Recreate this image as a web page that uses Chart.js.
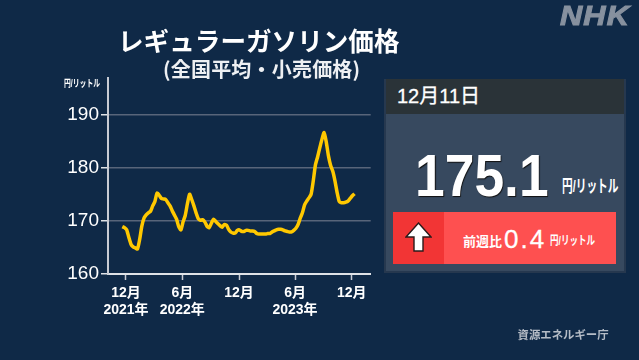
<!DOCTYPE html>
<html lang="ja">
<head>
<meta charset="utf-8">
<script src="https://cdn.jsdelivr.net/npm/chart.js@4"></script>
<style>
  html, body { margin: 0; padding: 0; background: #0f2947; }
  body { width: 639px; height: 360px; overflow: hidden; position: relative; color: #fff;
    font-family: "Liberation Sans", "Noto Sans CJK JP", sans-serif; }
  canvas { position: absolute; left: 0; top: 0; }
  .txt { position: absolute; white-space: nowrap; line-height: 1; }
  .unit { transform-origin: left center; font-weight: 700; }
  #title { left: 118px; top: 27px; font: 700 25.6px "Noto Sans CJK JP"; line-height: 1; }
  #subtitle { left: 163px; top: 59px; font: 700 20px "Noto Sans CJK JP"; line-height: 1; color: #eef0f3; letter-spacing: .2px; }
  #nhk { left: 560px; top: 1px; font: italic 900 27px "Liberation Sans"; color: #87919f; letter-spacing: 1px; transform: scaleX(1.14); transform-origin: left top; -webkit-text-stroke: 1px #87919f; }
  #axisUnit { left: 64px; top: 79px; font-size: 10px; transform: scaleX(.685); }
  #panel { position: absolute; left: 384px; top: 79px; width: 242px; height: 194px; background: #26384f; }
  #panelHead { position: absolute; left: 2px; top: 0; width: 238px; height: 35px; background: #2a3338; }
  #panelBody { position: absolute; left: 2px; top: 35px; width: 238px; height: 157px; background: #37495f; }
  #date { left: 397px; top: 86px; font-size: 20px; -webkit-text-stroke: .3px #fff; }
  #price { left: 415px; top: 141px; font: 700 60px "Liberation Sans"; transform: scaleX(.89); transform-origin: left top; text-shadow: 1px 1px 1px #111; }
  #priceUnit { left: 562px; top: 178px; font-size: 17px; transform: scaleX(.63); }
  #barDark { position: absolute; left: 393px; top: 212px; width: 51px; height: 52px; background: #f23535; }
  #barLight { position: absolute; left: 444px; top: 212px; width: 172px; height: 52px; background: #fe5050; }
  #arrow { position: absolute; left: 405px; top: 222px; }
  #weekLabel { left: 463px; top: 234px; font: 700 13px "Noto Sans CJK JP"; line-height: 1; }
  #weekValue { left: 504px; top: 224px; font: 400 26px "Liberation Sans"; letter-spacing: 2px; -webkit-text-stroke: .3px #fff; }
  #weekUnit { left: 550px; top: 235px; font-size: 12px; transform: scaleX(.71); }
  #source { left: 517.5px; top: 329px; font: 700 11.4px "Noto Sans CJK JP"; line-height: 1; color: #b5bcc6; }
</style>
</head>
<body>
<canvas id="chart" width="639" height="360"></canvas>
<div class="txt" id="title">レギュラーガソリン価格</div>
<div class="txt" id="subtitle">(全国平均・小売価格)</div>
<div class="txt" id="nhk">NHK</div>
<div class="txt unit" id="axisUnit">円/リットル</div>
<div id="panel"><div id="panelHead"></div><div id="panelBody"></div></div>
<div class="txt" id="date">12月11日</div>
<div class="txt" id="price">175.1</div>
<div class="txt unit" id="priceUnit">円/リットル</div>
<div id="barDark"></div>
<div id="barLight"></div>
<svg id="arrow" width="27" height="31" viewBox="0 0 27 31">
  <path d="M13.5 1 L26 15 L18 15 L18 29 L9 29 L9 15 L1 15 Z" fill="#fff" stroke="#2a1a1a" stroke-width="1.4"/>
</svg>
<div class="txt" id="weekLabel">前週比</div>
<div class="txt" id="weekValue">0.4</div>
<div class="txt unit" id="weekUnit">円/リットル</div>
<div class="txt" id="source">資源エネルギー庁</div>

<script>
// 週ごとの小売価格 (2021年11月〜2023年12月11日)
const prices = [
  168.9, 168.7, 168.3, 166.9, 165.6, 165.1, 164.9, 164.7, 166.5, 169.0,
  170.5, 171.1, 171.5, 171.8, 172.8, 173.6, 175.2, 174.8, 174.2, 174.1,
  174.0, 173.4, 172.8, 171.9, 171.1, 170.3, 168.9, 168.3, 169.8, 171.0,
  173.2, 175.0, 174.0, 172.8, 171.5, 170.4, 170.1, 170.2, 169.8, 169.0,
  168.7, 169.5, 170.3, 169.9, 169.5, 169.1, 168.8, 169.3, 169.2, 168.4,
  167.9, 167.7, 167.7, 168.2, 168.3, 168.0, 168.0, 168.2, 168.2, 168.1,
  168.1, 168.0, 167.6, 167.5, 167.5, 167.5, 167.5, 167.6, 167.6, 167.9,
  168.1, 168.3, 168.4, 168.4, 168.3, 168.1, 168.0, 167.9, 167.9, 168.2,
  168.6, 169.3, 170.5, 171.5, 173.0, 173.7, 174.3, 175.0, 177.5, 180.5,
  182.0, 183.7, 185.3, 186.6, 184.8, 182.2, 180.4, 179.3, 177.5, 175.3,
  173.6, 173.4, 173.4, 173.5, 173.7, 174.2, 174.7, 175.1
];
const yTicks = [160, 170, 180, 190];
const xTickWeeks = [1.7, 27.65, 53.8, 79.6, 105.7];
const xTickLabels = [["12月", "2021年"], ["6月", "2022年"], ["12月"], ["6月", "2023年"], ["12月"]];

const tickFont = '"Liberation Sans", "Noto Sans CJK JP", sans-serif';

new Chart(document.getElementById("chart"), {
  type: "line",
  data: {
    datasets: [{
      data: prices.map((v, i) => ({ x: i, y: v })),
      borderColor: "#ffc800",
      borderWidth: 3.5,
      pointRadius: 0,
      tension: 0.2
    }]
  },
  options: {
    responsive: false,
    animation: false,
    layout: { padding: { left: 0, top: 78, right: 268.3, bottom: 0 } },
    plugins: { legend: { display: false }, tooltip: { enabled: false } },
    scales: {
      x: {
        type: "linear",
        min: -6.59,
        max: 114.47,
        afterBuildTicks: s => { s.ticks = xTickWeeks.map(v => ({ value: v })); },
        afterFit: s => { s.height = 86; },
        border: { color: "#dfe2e7", width: 2 },
        grid: { drawOnChartArea: false, tickLength: 6, tickColor: "#c8ccd4", tickWidth: 1.5 },
        ticks: {
          autoSkip: false,
          maxRotation: 0,
          padding: 5,
          color: "#ffffff",
          font: { family: tickFont, size: 14, weight: "bold", lineHeight: 1.22 },
          callback: (v, i) => xTickLabels[i]
        }
      },
      y: {
        min: 160,
        max: 196.84,
        afterBuildTicks: s => { s.ticks = yTicks.map(v => ({ value: v })); },
        afterFit: s => { s.width = 108; },
        border: { color: "#c8ccd4", width: 2 },
        grid: { color: "#58657a", lineWidth: 1.5, tickLength: 7, tickColor: "#dfe2e7" },
        ticks: {
          padding: 2,
          color: "#ffffff",
          font: { family: tickFont, size: 19 }
        }
      }
    }
  }
});
</script>
</body>
</html>
